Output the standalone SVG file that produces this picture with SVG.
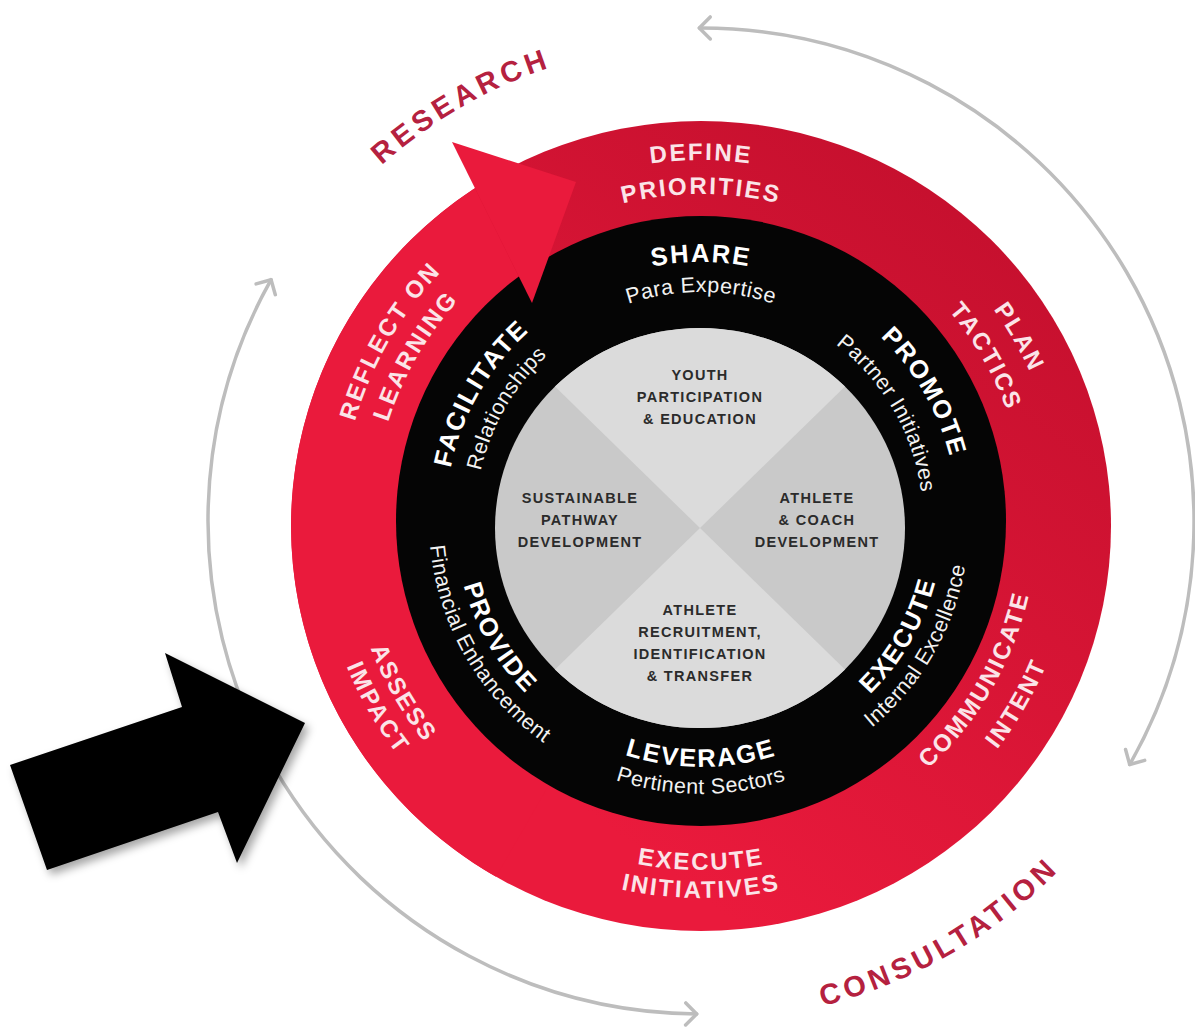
<svg xmlns="http://www.w3.org/2000/svg" width="1195" height="1028" viewBox="0 0 1195 1028">
<defs>
<style>
.ol{font-family:"Liberation Sans",Arial,sans-serif;font-weight:bold;font-size:24px;letter-spacing:2.2px;fill:#fbe4e8;}
.tt{font-family:"Liberation Sans",Arial,sans-serif;font-weight:bold;font-size:25.5px;letter-spacing:1.8px;fill:#ffffff;}
.st{font-family:"Liberation Sans",Arial,sans-serif;font-size:21.5px;letter-spacing:0.5px;fill:#f2f2f2;}
.ct{font-family:"Liberation Sans",Arial,sans-serif;font-weight:bold;font-size:14.5px;letter-spacing:1.3px;fill:#2b2b2b;text-anchor:middle;}
.big{font-family:"Liberation Sans",Arial,sans-serif;font-weight:bold;font-size:29px;letter-spacing:4.5px;fill:#b5213f;}
.arc{fill:none;stroke:#bdbdbd;stroke-width:3.5;stroke-linecap:round;}
</style>
<linearGradient id="rg" gradientUnits="userSpaceOnUse" x1="1000" y1="150" x2="450" y2="880">
<stop offset="0" stop-color="#c30f2d"/>
<stop offset="0.85" stop-color="#ea1a3c"/>
</linearGradient>
<marker id="chev" viewBox="-20 -20 40 40" markerWidth="40" markerHeight="40" markerUnits="userSpaceOnUse" refX="0" refY="0" orient="auto-start-reverse">
<path d="M-11,-11 L0,0 L-11,11" fill="none" stroke="#bdbdbd" stroke-width="3.5" stroke-linecap="round" stroke-linejoin="round"/>
</marker>
<filter id="sh" x="-20%" y="-20%" width="150%" height="150%">
<feDropShadow dx="4" dy="5" stdDeviation="4" flood-color="#000" flood-opacity="0.35"/>
</filter>
<path id="p-define" d="M388.4,340.5 A361,361 0 0 1 1013.6,340.5"/>
<path id="p-priorities" d="M417.8,357.5 A327,327 0 0 1 984.2,357.5"/>
<path id="p-plan" d="M701,160 A361,361 0 0 1 1013.6,701.5"/>
<path id="p-tactics" d="M701,196 A325,325 0 0 1 982.5,683.5"/>
<path id="p-communicate" d="M701,857 A336,336 0 0 0 992,353"/>
<path id="p-intent" d="M701,895 A374,374 0 0 0 1024.9,334"/>
<path id="p-execute-o" d="M398.8,695.5 A349,349 0 0 0 1003.2,695.5"/>
<path id="p-initiatives" d="M374.5,709.5 A377,377 0 0 0 1027.5,709.5"/>
<path id="p-assess" d="M394.4,344 A354,354 0 0 0 701,875"/>
<path id="p-impact" d="M369.3,329.5 A383,383 0 0 0 701,904"/>
<path id="p-reflect" d="M389.2,701 A360,360 0 0 1 701,161"/>
<path id="p-learning" d="M417,685 A328,328 0 0 1 701,193"/>
<path id="p-share" d="M476.7,391.5 A259,259 0 0 1 925.3,391.5"/>
<path id="p-para" d="M502.7,406.5 A229,229 0 0 1 899.3,406.5"/>
<path id="p-promote" d="M701,264 A257,257 0 0 1 923.6,649.5"/>
<path id="p-partner" d="M701,299 A222,222 0 0 1 893.3,632"/>
<path id="p-facilitate" d="M479.3,649 A256,256 0 0 1 701,265"/>
<path id="p-relationships" d="M505.3,634 A226,226 0 0 1 701,295"/>
<path id="p-execute-i" d="M701,763 A242,242 0 0 0 910.6,400"/>
<path id="p-internal" d="M701,789 A268,268 0 0 0 933.1,387"/>
<path id="p-leverage" d="M488,644 A246,246 0 0 0 914,644"/>
<path id="p-pertinent" d="M464.6,657.5 A273,273 0 0 0 937.4,657.5"/>
<path id="p-provide" d="M488,398 A246,246 0 0 0 701,767"/>
<path id="p-financial" d="M465.4,385 A272,272 0 0 0 701,793"/>
<path id="p-research" d="M223,521 A478,478 0 0 1 940,107"/>
<path id="p-consultation" d="M451,954 A500,500 0 0 0 1201,521"/>
</defs>

<rect width="1195" height="1028" fill="#ffffff"/>

<g id="connectors">
<path class="arc" d="M699.3,28 A493,493 0 0 1 1129.7,764.5" marker-start="url(#chev)" marker-end="url(#chev)"/>
<path class="arc" d="M696.7,1014 A493,493 0 0 1 271.1,279.7" marker-start="url(#chev)" marker-end="url(#chev)"/>
</g>

<g id="ring-outer">
<ellipse cx="701" cy="526" rx="410" ry="405" fill="url(#rg)"/>
<path d="M701,521 L496,876.7 A410,405 0 0 1 475,188.2 L518.8,276.4 Z" fill="#ea1a3c"/>
</g>

<g id="ring-black">
<circle cx="701" cy="521" r="305" fill="#050505"/>
</g>

<g id="arrow-head">
<polygon points="452,142 576,182 532,303" fill="#ea1a3c"/>
</g>

<g id="core">
<ellipse cx="700" cy="528" rx="205" ry="200" fill="#c9c9c9"/>
<path d="M700,528 L555,386.6 A205,200 0 0 1 845,386.6 Z" fill="#dbdbdb"/>
<path d="M700,528 L845,669.4 A205,200 0 0 1 555,669.4 Z" fill="#dbdbdb"/>
</g>

<g id="define-priorities">
<text class="ol"><textPath href="#p-define" startOffset="50%" text-anchor="middle">DEFINE</textPath></text>
<text class="ol"><textPath href="#p-priorities" startOffset="50%" text-anchor="middle">PRIORITIES</textPath></text>
</g>
<g id="plan-tactics">
<text class="ol"><textPath href="#p-plan" startOffset="50%" text-anchor="middle">PLAN</textPath></text>
<text class="ol"><textPath href="#p-tactics" startOffset="50%" text-anchor="middle">TACTICS</textPath></text>
</g>
<g id="communicate-intent">
<text class="ol"><textPath href="#p-communicate" startOffset="50%" text-anchor="middle">COMMUNICATE</textPath></text>
<text class="ol"><textPath href="#p-intent" startOffset="50%" text-anchor="middle">INTENT</textPath></text>
</g>
<g id="execute-initiatives">
<text class="ol"><textPath href="#p-execute-o" startOffset="50%" text-anchor="middle">EXECUTE</textPath></text>
<text class="ol"><textPath href="#p-initiatives" startOffset="50%" text-anchor="middle">INITIATIVES</textPath></text>
</g>
<g id="assess-impact">
<text class="ol"><textPath href="#p-assess" startOffset="50%" text-anchor="middle">ASSESS</textPath></text>
<text class="ol"><textPath href="#p-impact" startOffset="50%" text-anchor="middle">IMPACT</textPath></text>
</g>
<g id="reflect-learning">
<text class="ol"><textPath href="#p-reflect" startOffset="50%" text-anchor="middle">REFLECT ON</textPath></text>
<text class="ol"><textPath href="#p-learning" startOffset="50%" text-anchor="middle">LEARNING</textPath></text>
</g>

<g id="share">
<text class="tt"><textPath href="#p-share" startOffset="50%" text-anchor="middle">SHARE</textPath></text>
<text class="st"><textPath href="#p-para" startOffset="50%" text-anchor="middle">Para Expertise</textPath></text>
</g>
<g id="promote">
<text class="tt"><textPath href="#p-promote" startOffset="50%" text-anchor="middle">PROMOTE</textPath></text>
<text class="st"><textPath href="#p-partner" startOffset="50%" text-anchor="middle">Partner Initiatives</textPath></text>
</g>
<g id="execute">
<text class="tt"><textPath href="#p-execute-i" startOffset="50%" text-anchor="middle">EXECUTE</textPath></text>
<text class="st"><textPath href="#p-internal" startOffset="50%" text-anchor="middle">Internal Excellence</textPath></text>
</g>
<g id="leverage">
<text class="tt"><textPath href="#p-leverage" startOffset="50%" text-anchor="middle">LEVERAGE</textPath></text>
<text class="st"><textPath href="#p-pertinent" startOffset="50%" text-anchor="middle">Pertinent Sectors</textPath></text>
</g>
<g id="provide">
<text class="tt"><textPath href="#p-provide" startOffset="50%" text-anchor="middle">PROVIDE</textPath></text>
<text class="st"><textPath href="#p-financial" startOffset="50%" text-anchor="middle">Financial Enhancement</textPath></text>
</g>
<g id="facilitate">
<text class="tt"><textPath href="#p-facilitate" startOffset="50%" text-anchor="middle">FACILITATE</textPath></text>
<text class="st"><textPath href="#p-relationships" startOffset="50%" text-anchor="middle">Relationships</textPath></text>
</g>

<g id="youth">
<text class="ct" x="700" y="380">YOUTH</text>
<text class="ct" x="700" y="402">PARTICIPATION</text>
<text class="ct" x="700" y="424">&amp; EDUCATION</text>
</g>
<g id="sustainable">
<text class="ct" x="580" y="503">SUSTAINABLE</text>
<text class="ct" x="580" y="525">PATHWAY</text>
<text class="ct" x="580" y="547">DEVELOPMENT</text>
</g>
<g id="athlete-coach">
<text class="ct" x="817" y="503">ATHLETE</text>
<text class="ct" x="817" y="525">&amp; COACH</text>
<text class="ct" x="817" y="547">DEVELOPMENT</text>
</g>
<g id="athlete-recruitment">
<text class="ct" x="700" y="615">ATHLETE</text>
<text class="ct" x="700" y="637">RECRUITMENT,</text>
<text class="ct" x="700" y="659">IDENTIFICATION</text>
<text class="ct" x="700" y="681">&amp; TRANSFER</text>
</g>

<g id="research">
<text class="big"><textPath href="#p-research" startOffset="50%" text-anchor="middle">RESEARCH</textPath></text>
</g>
<g id="consultation">
<text class="big"><textPath href="#p-consultation" startOffset="50%" text-anchor="middle">CONSULTATION</textPath></text>
</g>

<g id="pointer">
<polygon points="10,765 182,707 165,653 305,723 237,863 218,812 47,870" fill="#000000" filter="url(#sh)"/>
</g>
</svg>
